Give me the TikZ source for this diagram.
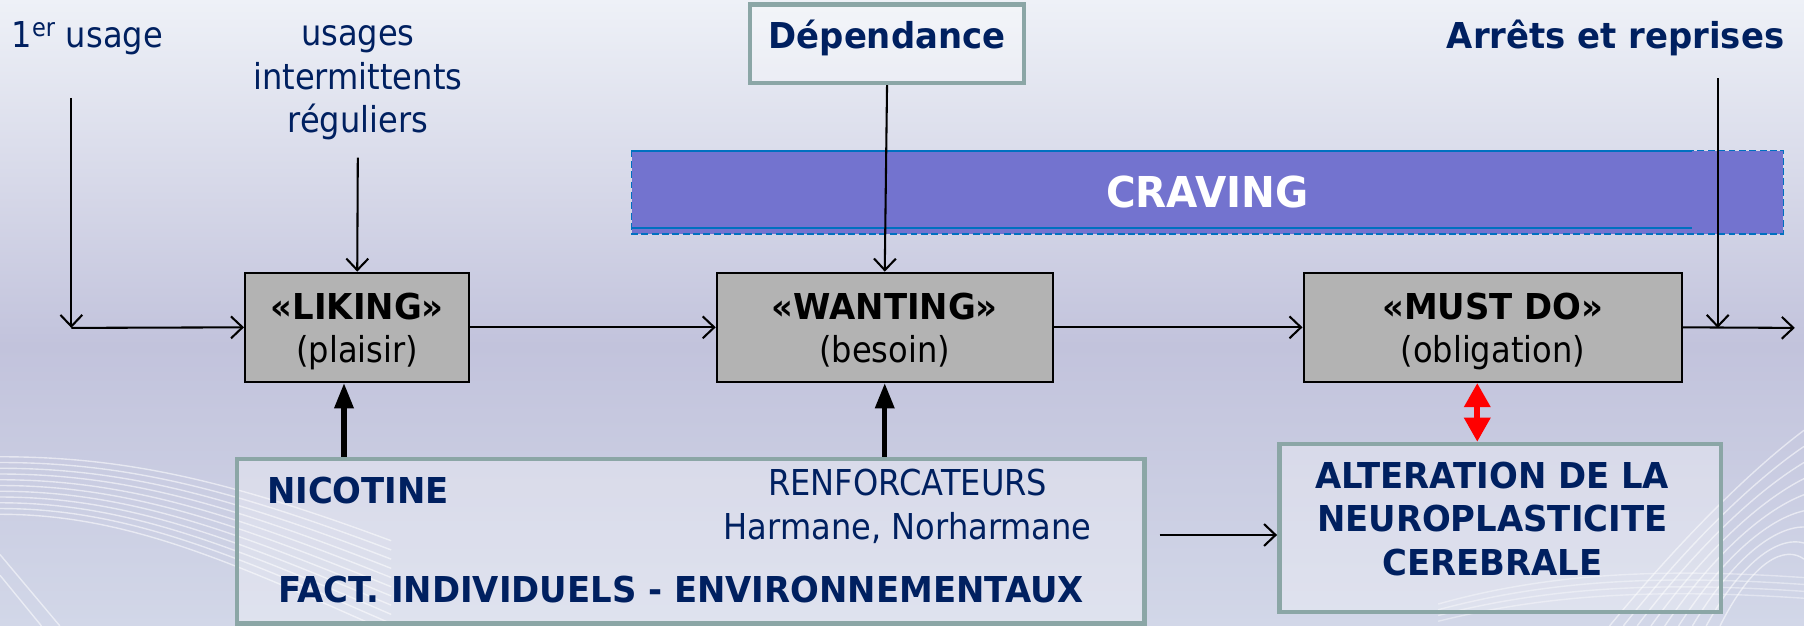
\documentclass[tikz,border=0pt]{standalone}
\usepackage{fontspec}
\setmainfont{DejaVu Sans}[FakeStretch=0.9, BoldFeatures={FakeStretch=0.95}]
\usetikzlibrary{arrows.meta}
\definecolor{txtblue}{HTML}{002060}
\definecolor{boxedge}{HTML}{8BA6A6}
\definecolor{grayfill}{HTML}{B3B3B3}
\definecolor{cravfill}{HTML}{7373CF}
\definecolor{cravedge}{HTML}{0070C0}
\definecolor{bgtop}{HTML}{EEF1F7}
\definecolor{bgmid}{HTML}{C2C3DC}
\definecolor{bgbot}{HTML}{D2D7E8}
\newcommand{\regfont}{\fontsize{31}{38}\selectfont}
\newcommand{\boldfont}{\bfseries\fontsize{31}{38}\selectfont}
\tikzset{
  every node/.style={font=\regfont, inner sep=0pt},
  graybox/.style={draw=black, line width=1.8pt, fill=grayfill, minimum height=95pt},
  boxtext/.style={text=black, anchor=base},
  framebox/.style={draw=boxedge, line width=4pt, fill=white, fill opacity=0.3, draw opacity=1, text opacity=1},
  txtlabel/.style={text=txtblue, align=center},
  flow/.style={line width=1.8pt, -{Straight Barb[length=10pt,width=19pt]}},
  pusharrow/.style={line width=4.5pt, -{Triangle[length=22pt,width=16pt]}},
  redarrow/.style={red, line width=5pt, {Triangle[length=21pt,width=22pt]}-{Triangle[length=21pt,width=22pt]}},
  swoosh/.style={white, line width=1.2pt, opacity=0.55},
}
\begin{document}
\begin{tikzpicture}[x=1pt,y=-1pt]
\useasboundingbox (0,0) rectangle (1568,544);
\shade[top color=bgtop, bottom color=bgmid] (0,0) rectangle (1568,300);
\shade[top color=bgmid, bottom color=bgbot] (0,300) rectangle (1568,544);
% decorative swooshes
\foreach \k in {0,...,10} {
  \draw[swoosh] (0,{397+\k*5}) .. controls (110,{397+\k*5}) and (200,{418+\k*7}) .. (340,{470+\k*8});
}
\draw[swoosh] (0,482) -- (52,544);
\draw[swoosh] (0,500) -- (36,544);
\foreach \k in {0,...,8} {
  \draw[swoosh] ({1399+\k*12},544) .. controls ({1460+\k*8},{470+\k*2}) and ({1520+\k*4},{410+\k*8}) .. (1568,{374+\k*14});
}
\foreach \k in {0,...,3} {
  \draw[swoosh, opacity=0.4] (1250,{540-\k*5}) .. controls (1350,{515-\k*6}) and (1450,{512-\k*6}) .. (1568,{520-\k*6});
}
% CRAVING bar
\node[fill=cravfill, minimum width=1001pt, minimum height=72pt, text=white, font=\bfseries\fontsize{37}{44}\selectfont] (craving) at (1049.5,167) {CRAVING};
\draw[cravedge, line width=1.5pt, dash pattern=on 6pt off 3pt] (craving.north west) rectangle (craving.south east);
\draw[cravedge, line width=1.5pt] (549,131) -- (1471,131);
\draw[cravedge, line width=1.5pt] (549,198) -- (1471,198);
% top labels
\node[txtlabel, anchor=west] (first) at (10,33) {1\textsuperscript{er} usage};
\node[txtlabel] (usages) at (311,72) {usages\\intermittents\\réguliers};
\node[framebox, minimum width=238pt, minimum height=68pt] (dep) at (771,38) {};
\node[txtlabel, font=\boldfont] (deptext) at (771,33) {Dépendance};
\node[txtlabel, font=\boldfont, anchor=east] (arrets) at (1551,33) {Arrêts et reprises};
% gray boxes
\node[graybox, minimum width=195pt] (liking) at (310.5,284.5) {};
\node[graybox, minimum width=292pt] (wanting) at (769,284.5) {};
\node[graybox, minimum width=329pt] (must) at (1297.5,284.5) {};
\node[boxtext, font=\boldfont] (liking1) at (310.5,278) {«LIKING»};
\node[boxtext] (liking2) at (310.5,315) {(plaisir)};
\node[boxtext, font=\boldfont] (wanting1) at (769,278) {«WANTING»};
\node[boxtext] (wanting2) at (769,315) {(besoin)};
\node[boxtext, font=\boldfont] (must1) at (1297.5,278) {«MUST DO»};
\node[boxtext] (must2) at (1297.5,315) {(obligation)};
% bottom boxes
\node[framebox, minimum width=789pt, minimum height=143pt] (fact) at (600.5,470.5) {};
\node[txtlabel, font=\boldfont, anchor=west] (nico) at (232,426) {NICOTINE};
\node[txtlabel] (renf) at (789,440) {RENFORCATEURS\\Harmane, Norharmane};
\node[txtlabel, font=\boldfont] (factxt) at (592,512) {FACT. INDIVIDUELS - ENVIRONNEMENTAUX};
\node[framebox, minimum width=384pt, minimum height=146pt] (alt) at (1304,459) {};
\node[txtlabel, font=\boldfont] (alttxt) at (1297,451) {ALTERATION DE LA\\NEUROPLASTICITE\\CEREBRALE};
% coordinates
\coordinate (c1) at (62,85);
\coordinate (c2) at (62,285);
\coordinate (a1) at (1493,68);
\coordinate (a2) at (1493,285);
\coordinate (out) at (1560,285);
\coordinate (nx) at (299,0);
\coordinate (rx) at (1284,0);
\coordinate (fx) at (1008,465);
\coordinate (ux) at (311,137);
% connectors
\draw[flow] (c1) -- (c2);
\draw[flow] (c2) -- (liking.west);
\draw[flow] (ux) -- (liking.north);
\draw[flow] (dep.south) -- (wanting.north);
\draw[flow] (liking.east) -- (wanting.west);
\draw[flow] (wanting.east) -- (must.west);
\draw[flow] (must.east) -- (out);
\draw[flow] (a1) -- (a2);
\draw[pusharrow] (fact.north -| nx) -- (liking.south -| nx);
\draw[pusharrow] (fact.north -| wanting.south) -- (wanting.south);
\draw[redarrow] (must.south -| rx) -- (alt.north -| rx);
\draw[flow] (fx) -- (alt.west |- fx);
\end{tikzpicture}
\end{document}
